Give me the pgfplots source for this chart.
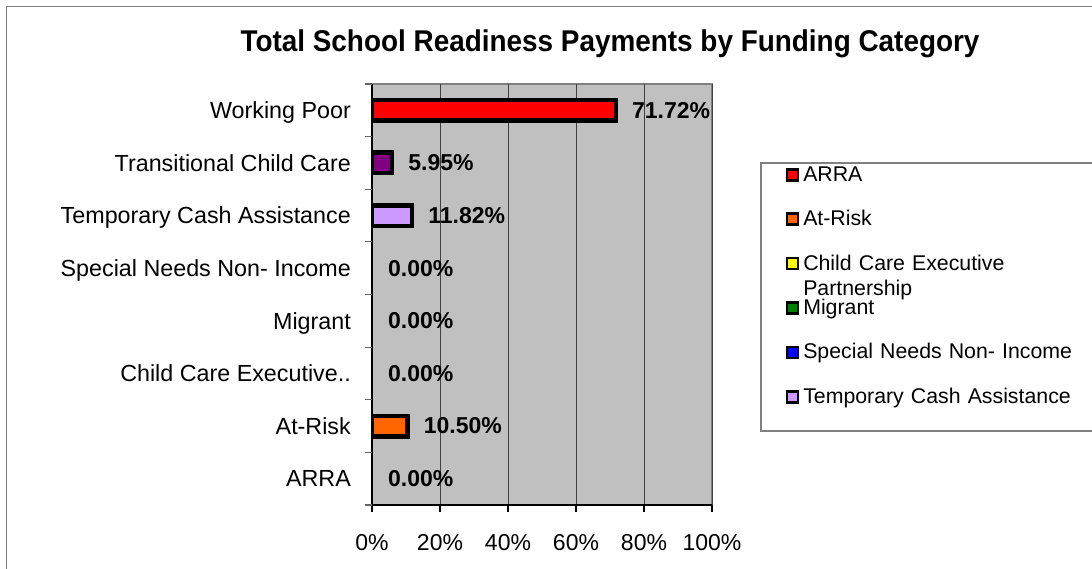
\documentclass[border=0pt]{standalone}
\usepackage{pgfplots}
\pgfplotsset{compat=1.18}
\usepackage{fontspec}
\setmainfont{Liberation Sans}
\definecolor{plotbg}{HTML}{C0C0C0}
\definecolor{cred}{HTML}{FF0000}
\definecolor{corange}{HTML}{FF6600}
\definecolor{cyellow}{HTML}{FFFF00}
\definecolor{cgreen}{HTML}{008000}
\definecolor{cblue}{HTML}{0000FF}
\definecolor{clav}{HTML}{CC99FF}
\definecolor{cpurple}{HTML}{800080}
\definecolor{frame}{HTML}{808080}
\begin{document}
\begin{tikzpicture}
\useasboundingbox (0,0) rectangle (1092pt,568pt);
\fill[white] (0,0) rectangle (1092pt,568pt);
\draw[frame, line width=1.5pt] (6.5pt,-10pt) -- (6.5pt,561.5pt) -- (1110pt,561.5pt);
\node[anchor=base, inner sep=0pt] at (610pt,516pt) {\scalebox{0.93}[1]{\fontsize{30}{34}\selectfont\bfseries Total School Readiness Payments by Funding Category}};
\begin{axis}[
  at={(372pt,63pt)}, anchor=south west,
  scale only axis, width=340pt, height=421pt,
  xmin=0, xmax=100, ymin=-0.5, ymax=7.5,
  xbar, bar width=20.5pt, bar shift=0pt,
  axis x line*=bottom, axis y line*=left,
  axis line style={-, black, line width=2pt},
  axis background/.style={fill=plotbg, draw=frame, line width=2pt},
  xtick={0,20,40,60,80,100},
  xticklabels={0\%,20\%,40\%,60\%,80\%,100\%},
  xtick style={black, line width=1.2pt},
  tick align=outside, major tick length=7pt,
  xmajorgrids, grid style={black!75, line width=1pt},
  xticklabel style={font=\fontsize{23}{27}\selectfont, anchor=base, inner sep=0pt, yshift=-38pt},
  ytick={0,1,2,3,4,5,6,7},
  yticklabels={ARRA, At-Risk, Child Care Executive.., Migrant, Special Needs Non- Income, Temporary Cash Assistance, Transitional Child Care, Working Poor},
  ytick style={draw=none},
  yticklabel style={font=\fontsize{23.3}{28}\selectfont, anchor=base east, inner sep=0pt, xshift=-14pt, yshift=-8.3pt},
  extra y ticks={-0.5,0.5,1.5,2.5,3.5,4.5,5.5,6.5,7.5},
  extra y tick labels={},
  extra y tick style={ytick style={draw=black!60, line width=1.2pt}, grid=none},
  legend style={at={(1.1412,0.8147)}, anchor=north west, draw=frame, line width=1.5pt, fill=white,
    inner xsep=25pt, inner ysep=5pt, row sep=8.4pt, column sep=4pt,
    font=\fontsize{21.3}{25}\selectfont,
    nodes={text height=13.6pt, text depth=22.4pt, inner sep=0pt, text width=300pt}},
  legend cell align=left,
  legend image code/.code={\draw[#1, line width=2.5pt, draw=black] (0pt,5.5pt) rectangle (11pt,16.5pt);},
]
\addlegendimage{fill=cred}\addlegendentry{ARRA}
\addlegendimage{fill=corange}\addlegendentry{At-Risk}
\addlegendimage{fill=cyellow}\addlegendentry{\smash{\parbox[t]{300pt}{Child Care Executive\\Partnership}}}
\addlegendimage{fill=cgreen}\addlegendentry{Migrant}
\addlegendimage{fill=cblue}\addlegendentry{Special Needs Non- Income}
\addlegendimage{fill=clav}\addlegendentry{Temporary Cash Assistance}
\addplot[forget plot, fill=cred, draw=black, line width=4.5pt] coordinates {(71.72,7)};
\addplot[forget plot, fill=cpurple, draw=black, line width=4.5pt] coordinates {(5.95,6)};
\addplot[forget plot, fill=clav, draw=black, line width=4.5pt] coordinates {(11.82,5)};
\addplot[forget plot, fill=corange, draw=black, line width=4.5pt] coordinates {(10.50,1)};
\addplot[forget plot, draw=none, fill=none,
  nodes near coords={\pgfmathprintnumber[fixed,fixed zerofill,precision=2,assume math mode=true]{\pgfplotspointmeta}\%},
  nodes near coords style={font=\fontsize{23}{27}\selectfont\bfseries, anchor=west, inner xsep=0pt, xshift=16pt, text=black}]
  coordinates {(0,0) (10.50,1) (0,2) (0,3) (0,4) (11.82,5) (5.95,6) (71.72,7)};
\end{axis}
\end{tikzpicture}
\end{document}
